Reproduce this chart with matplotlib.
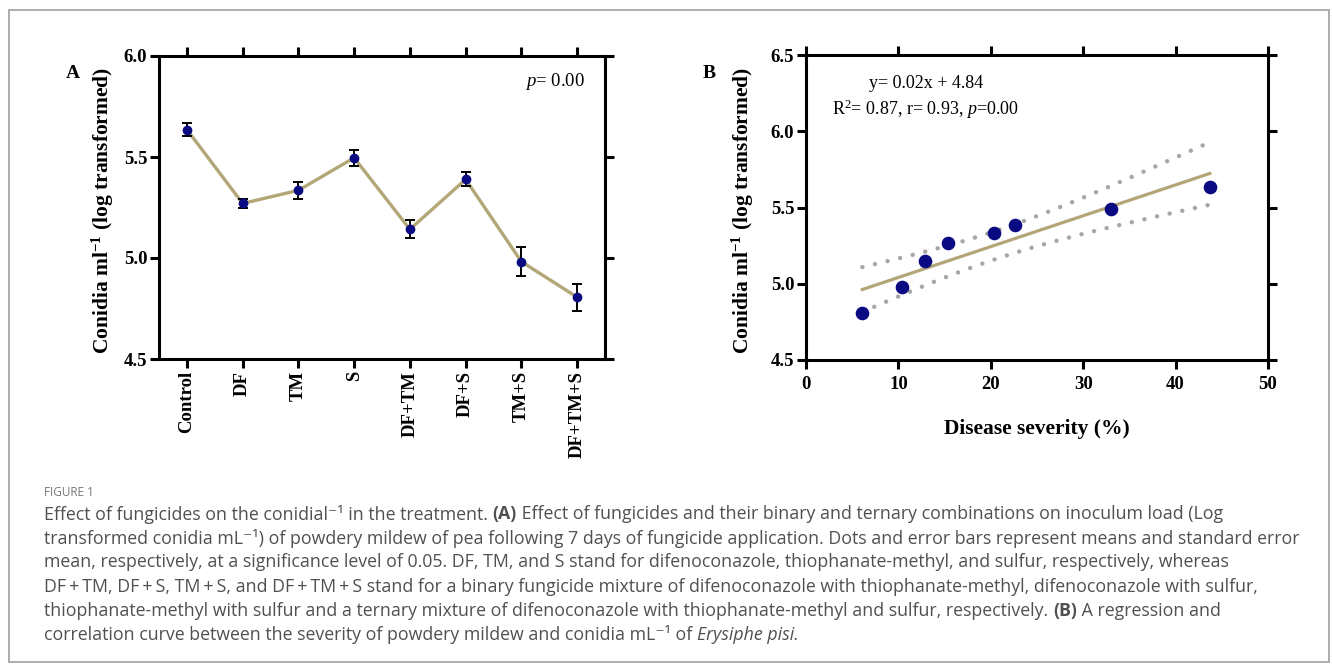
import numpy as np
import matplotlib
matplotlib.use("Agg")
import matplotlib.pyplot as plt
from matplotlib.patches import Rectangle

W, H = 1333, 669

TREATMENTS = ["Control", "DF", "TM", "S", "DF+TM", "DF+S", "TM+S", "DF+TM+S"]
CONIDIA_MEAN = [5.636, 5.270, 5.335, 5.496, 5.142, 5.389, 4.982, 4.806]
CONIDIA_SE = [0.032, 0.020, 0.042, 0.040, 0.045, 0.035, 0.071, 0.067]

SEVERITY = [6.1, 10.4, 12.9, 15.4, 20.4, 22.6, 33.0, 43.7]
CONIDIA_B = [4.805, 4.976, 5.147, 5.265, 5.336, 5.384, 5.493, 5.634]
T_975_DF6 = 2.447  # two-sided 95% t value, 6 degrees of freedom

CAPTION = [
    [("Effect of fungicides on the conidial\u207b\u00b9 in the treatment. ", "normal", "normal"),
     ("(A)", "bold", "normal"),
     (" Effect of fungicides and their binary and ternary combinations on inoculum load (Log", "normal", "normal")],
    [("transformed conidia mL\u207b\u00b9) of powdery mildew of pea following 7 days of fungicide application. "
      "Dots and error bars represent means and standard error", "normal", "normal")],
    [("mean, respectively, at a significance level of 0.05. DF, TM, and S stand for difenoconazole, "
      "thiophanate-methyl, and sulfur, respectively, whereas", "normal", "normal")],
    [("DF\u2009+\u2009TM, DF\u2009+\u2009S, TM\u2009+\u2009S, and DF\u2009+\u2009TM\u2009+\u2009S stand for a binary fungicide "
      "mixture of difenoconazole with thiophanate-methyl, difenoconazole with sulfur,", "normal", "normal")],
    [("thiophanate-methyl with sulfur and a ternary mixture of difenoconazole with thiophanate-methyl "
      "and sulfur, respectively. ", "normal", "normal"),
     ("(B)", "bold", "normal"),
     (" A regression and", "normal", "normal")],
    [("correlation curve between the severity of powdery mildew and conidia mL\u207b\u00b9 of ", "normal", "normal"),
     ("Erysiphe pisi.", "normal", "italic")],
]

plt.rcParams["font.family"] = ["Liberation Serif", "DejaVu Serif"]
plt.rcParams["mathtext.fontset"] = "custom"
plt.rcParams["mathtext.rm"] = "Liberation Serif"
plt.rcParams["mathtext.it"] = "Liberation Serif:italic"
plt.rcParams["mathtext.bf"] = "Liberation Serif:bold"

NAVY = "#0a0a82"
KHAKI = "#b3a677"
CAP_FONT = ["Open Sans", "DejaVu Sans"]


def px_axes(fig, left, top, right, bottom):
    return fig.add_axes([left / W, 1 - bottom / H, (right - left) / W, (bottom - top) / H])


def style_axes(ax):
    for s in ax.spines.values():
        s.set_linewidth(2.2)
    ax.tick_params(direction="out", top=True, right=True, length=6.5, width=2.2,
                   labelsize=13.5, labelcolor="black")
    for lab in ax.get_xticklabels() + ax.get_yticklabels():
        lab.set_fontweight("bold")


def main():
    fig = plt.figure(figsize=(W / 100, H / 100), dpi=100)

    # ---- panel A
    ax1 = px_axes(fig, 159, 56, 605, 359)
    x = np.arange(len(TREATMENTS))
    ax1.plot(x, CONIDIA_MEAN, color=KHAKI, lw=2.4, zorder=2)
    ax1.errorbar(x, CONIDIA_MEAN, yerr=CONIDIA_SE, fmt="none", ecolor="black",
                 elinewidth=1.4, capsize=3.4, capthick=1.4, zorder=3)
    ax1.plot(x, CONIDIA_MEAN, "o", color=NAVY, ms=6, zorder=4)
    ax1.set_xlim(-0.5, len(TREATMENTS) - 0.5)
    ax1.set_ylim(4.5, 6.0)
    ax1.set_yticks([4.5, 5.0, 5.5, 6.0])
    ax1.set_yticklabels([f"{v:.1f}" for v in [4.5, 5.0, 5.5, 6.0]])
    ax1.set_xticks(x)
    ax1.set_xticklabels(TREATMENTS, rotation=90)
    style_axes(ax1)
    ax1.tick_params(axis="x", pad=2)
    ax1.tick_params(axis="y", pad=2)
    ax1.set_ylabel(r"Conidia ml$^{\mathbf{-1}}$ (log transformed)", fontsize=15.5,
                   fontweight="bold")
    ax1.yaxis.set_label_coords(-0.096, 0.49)
    ax1.text(0.955, 0.915, r"$p$= 0.00", transform=ax1.transAxes, ha="right",
             va="center", fontsize=13.5)
    fig.text(73 / W, 1 - 74 / H, "A", ha="center", va="center", fontsize=14,
             fontweight="bold")

    # ---- panel B
    ax2 = px_axes(fig, 806, 55, 1268, 360)
    xs = np.array(SEVERITY)
    ys = np.array(CONIDIA_B)
    slope, intercept = np.polyfit(xs, ys, 1)
    n = len(xs)
    resid = ys - (slope * xs + intercept)
    s = np.sqrt(np.sum(resid ** 2) / (n - 2))
    sxx = np.sum((xs - xs.mean()) ** 2)
    xf = np.linspace(xs.min(), xs.max(), 200)
    yf = slope * xf + intercept
    half = T_975_DF6 * s * np.sqrt(1 / n + (xf - xs.mean()) ** 2 / sxx)
    for band in (yf + half, yf - half):
        ax2.plot(xf, band, color="#a6a6a6", lw=3.2, linestyle=(0, (0.01, 2.9)),
                 dash_capstyle="round", zorder=2)
    ax2.plot(xf, yf, color=KHAKI, lw=2.3, zorder=3)
    ax2.plot(xs, ys, "o", color=NAVY, ms=8.8, zorder=4)
    ax2.set_xlim(0, 50)
    ax2.set_ylim(4.5, 6.5)
    ax2.set_xticks(range(0, 51, 10))
    ax2.set_yticks([4.5, 5.0, 5.5, 6.0, 6.5])
    ax2.set_yticklabels([f"{v:.1f}" for v in [4.5, 5.0, 5.5, 6.0, 6.5]])
    style_axes(ax2)
    ax2.tick_params(axis="x", pad=5)
    ax2.tick_params(axis="y", pad=2)
    ax2.set_xlabel("Disease severity (%)", fontsize=15.5, fontweight="bold")
    ax2.xaxis.set_label_coords(0.5, -0.194)
    ax2.set_ylabel(r"Conidia ml$^{\mathbf{-1}}$ (log transformed)", fontsize=15.5,
                   fontweight="bold")
    ax2.yaxis.set_label_coords(-0.108, 0.49)
    ax2.text((926 - 806) / 462, 1 - (84 - 55) / 305, "y= 0.02x + 4.84",
             transform=ax2.transAxes, ha="center", va="center", fontsize=13)
    ax2.text((926 - 806) / 462, 1 - (109 - 55) / 305,
             r"R$^2$= 0.87, r= 0.93, $p$=0.00",
             transform=ax2.transAxes, ha="center", va="center", fontsize=13)
    fig.text(709 / W, 1 - 73 / H, "B", ha="center", va="center", fontsize=14,
             fontweight="bold")

    # ---- frame and caption
    fig.add_artist(Rectangle((9 / W, 1 - 662 / H), (1329 - 9) / W, (662 - 10) / H,
                             transform=fig.transFigure, fill=False,
                             ec="#a0a0a0", lw=1.2))
    fig.text(44 / W, 1 - 492 / H, "FIGURE 1", ha="left", va="center",
             fontsize=8.5, color="#777777", family=CAP_FONT)

    renderer = fig.canvas.get_renderer()
    # size the caption font so that the second (full) line spans 44..1298 px
    probe = fig.text(0, 0, CAPTION[1][0][0], fontsize=10, family=CAP_FONT)
    cap_size = 10 * (1298 - 44) / probe.get_window_extent(renderer).width
    probe.remove()

    line_y = [514, 538, 562, 587, 611, 635]
    for y, segs in zip(line_y, CAPTION):
        xpos = 44
        for txt, weight, style in segs:
            t = fig.text(xpos / W, 1 - y / H, txt, ha="left", va="center",
                         fontsize=cap_size, color="#505050", family=CAP_FONT,
                         fontweight=weight, fontstyle=style)
            xpos += t.get_window_extent(renderer).width

    fig.savefig("out.png", dpi=100)


if __name__ == "__main__":
    main()
